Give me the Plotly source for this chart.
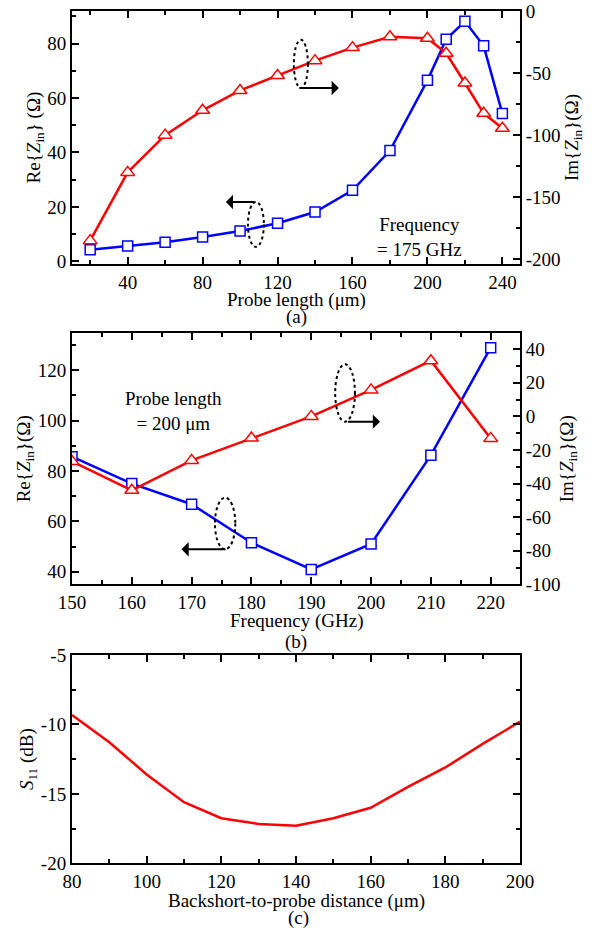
import plotly.graph_objects as go

# ---------------- data ----------------
# Panel (a): vs probe length at 175 GHz
probe_len = [20, 40, 60, 80, 100, 120, 140, 160, 180, 200, 210, 220, 230, 240]
re_a = [4.2, 5.6, 7.0, 8.9, 11.1, 14.0, 18.1, 26.1, 40.7, 66.5, 81.6, 88.2, 79.2, 54.3]
im_a = [-185, -130, -100, -80, -64, -52, -40, -29.5, -20.7, -22, -34, -58, -82.4, -94.5]

# Panel (b): vs frequency at probe length 200 um
freq = [150, 160, 170, 180, 190, 200, 210, 220]
re_b = [85.7, 75.0, 66.8, 51.5, 40.9, 51.0, 86.3, 129.0]
im_b = [-26.8, -44.0, -26.2, -12.9, 0.0, 15.8, 33.2, -13.1]

# Panel (c): S11 vs backshort-to-probe distance
dist = [80, 90, 100, 110, 120, 130, 140, 150, 160, 170, 180, 190, 200]
s11 = [-9.32, -11.28, -13.6, -15.6, -16.75, -17.17, -17.3, -16.75, -16.0, -14.5, -13.1, -11.4, -9.8]

# tick labels
xa_ticks = [40, 80, 120, 160, 200, 240]
ya_ticks = [0, 20, 40, 60, 80]
ya2_ticks = [-200, -150, -100, -50, 0]
xb_ticks = [150, 160, 170, 180, 190, 200, 210, 220]
yb_ticks = [40, 60, 80, 100, 120]
yb2_ticks = [-100, -80, -60, -40, -20, 0, 20, 40]
xc_ticks = [80, 100, 120, 140, 160, 180, 200]
yc_ticks = [-20, -15, -10, -5]

FONT = "Liberation Serif, Times New Roman, serif"
FS = 19
RED = "#ff0000"
BLUE = "#0000ff"


def lab(v):
    return [str(t) for t in v]


def axis(**kw):
    base = dict(
        showline=True, linecolor="black", linewidth=2,
        ticks="inside", ticklen=7, tickwidth=1.5, tickcolor="black",
        showgrid=False, zeroline=False, automargin=False,
        tickfont=dict(family=FONT, size=FS, color="black"),
        title_font=dict(family=FONT, size=FS, color="black"),
    )
    base.update(kw)
    return base


fig = go.Figure()

# Panel (a)
fig.add_trace(go.Scatter(x=probe_len, y=re_a, mode="lines+markers", xaxis="x", yaxis="y",
                         line=dict(color=BLUE, width=2.5),
                         marker=dict(symbol="square", size=10, color="white",
                                     line=dict(color=BLUE, width=1.5)), showlegend=False))
fig.add_trace(go.Scatter(x=probe_len, y=im_a, mode="lines+markers", xaxis="x", yaxis="y2",
                         line=dict(color=RED, width=2.5),
                         marker=dict(symbol="triangle-up", size=12, color="white",
                                     line=dict(color=RED, width=1.5)), showlegend=False))
# Panel (b)
fig.add_trace(go.Scatter(x=freq, y=re_b, mode="lines+markers", xaxis="x2", yaxis="y3",
                         line=dict(color=BLUE, width=2.5),
                         marker=dict(symbol="square", size=10, color="white",
                                     line=dict(color=BLUE, width=1.5)), showlegend=False))
fig.add_trace(go.Scatter(x=freq, y=im_b, mode="lines+markers", xaxis="x2", yaxis="y4",
                         line=dict(color=RED, width=2.5),
                         marker=dict(symbol="triangle-up", size=12, color="white",
                                     line=dict(color=RED, width=1.5)), showlegend=False))
# Panel (c)
fig.add_trace(go.Scatter(x=dist, y=s11, mode="lines", xaxis="x3", yaxis="y5",
                         line=dict(color=RED, width=2.5), showlegend=False))

W, H = 597, 931
xdom = [72 / W, 520 / W]
da = [1 - 264 / H, 1 - 11 / H]
db = [1 - 584.3 / H, 1 - 333.3 / H]
dc = [1 - 863.3 / H, 1 - 655 / H]

fig.update_layout(
    width=W, height=H,
    margin=dict(l=0, r=0, t=0, b=0),
    paper_bgcolor="white", plot_bgcolor="white",
    font=dict(family=FONT, size=FS, color="black"),
    xaxis=axis(domain=xdom, anchor="y", range=[10.3, 249.4], mirror="ticks",
               tickmode="array", tickvals=xa_ticks, ticktext=lab(xa_ticks),
               minor=dict(ticks="inside", ticklen=4, dtick=20, tick0=0, tickcolor="black")),
    yaxis=axis(domain=da, anchor="x", range=[-1, 92],
               tickmode="array", tickvals=ya_ticks, ticktext=lab(ya_ticks),
               minor=dict(ticks="inside", ticklen=4, dtick=10, tick0=0, tickcolor="black"),
               title=dict(text="Re{<i>Z</i><sub>in</sub>} (Ω)", standoff=2)),
    yaxis2=axis(domain=da, anchor="x", overlaying="y", side="right", range=[-203.8, 0],
                tickmode="array", tickvals=ya2_ticks, ticktext=lab(ya2_ticks),
                minor=dict(ticks="inside", ticklen=4, dtick=25, tick0=0, tickcolor="black"),
                title=dict(text="Im{<i>Z</i><sub>in</sub>}(Ω)", standoff=0)),
    xaxis2=axis(domain=xdom, anchor="y3", range=[150, 224.9], mirror="ticks",
                tickmode="array", tickvals=xb_ticks, ticktext=lab(xb_ticks),
                minor=dict(ticks="inside", ticklen=4, dtick=5, tick0=0, tickcolor="black")),
    yaxis3=axis(domain=db, anchor="x2", range=[35, 134.7],
                tickmode="array", tickvals=yb_ticks, ticktext=lab(yb_ticks),
                minor=dict(ticks="inside", ticklen=4, dtick=10, tick0=0, tickcolor="black"),
                title=dict(text="Re{<i>Z</i><sub>in</sub>}(Ω)", standoff=2)),
    yaxis4=axis(domain=db, anchor="x2", overlaying="y3", side="right", range=[-100, 49.5],
                tickmode="array", tickvals=yb2_ticks, ticktext=lab(yb2_ticks),
                minor=dict(ticks="inside", ticklen=4, dtick=10, tick0=0, tickcolor="black"),
                title=dict(text="Im{<i>Z</i><sub>in</sub>}(Ω)", standoff=0)),
    xaxis3=axis(domain=xdom, anchor="y5", range=[80, 200], mirror="ticks",
                tickmode="array", tickvals=xc_ticks, ticktext=lab(xc_ticks),
                minor=dict(ticks="inside", ticklen=4, dtick=10, tick0=0, tickcolor="black")),
    yaxis5=axis(domain=dc, anchor="x3", range=[-20, -5], mirror="ticks",
                tickmode="array", tickvals=yc_ticks, ticktext=lab(yc_ticks),
                minor=dict(ticks="inside", ticklen=4, dtick=2.5, tick0=0, tickcolor="black"),
                title=dict(text="<i>S</i><sub>11</sub> (dB)", standoff=2)),
)

# X-axis titles, panel labels and text annotations
ann = [
    dict(text="Probe length (μm)", xref="paper", yref="paper", x=296 / W, y=1 - 300 / H),
    dict(text="Frequency (GHz)", xref="paper", yref="paper", x=296 / W, y=1 - 621 / H),
    dict(text="Backshort-to-probe distance (μm)", xref="paper", yref="paper", x=296 / W, y=1 - 900.5 / H),
    dict(text="(a)", xref="paper", yref="paper", x=296 / W, y=1 - 317 / H),
    dict(text="(b)", xref="paper", yref="paper", x=296 / W, y=1 - 641.5 / H),
    dict(text="(c)", xref="paper", yref="paper", x=298 / W, y=1 - 918 / H),
    dict(text="Frequency<br>= 175 GHz", xref="x", yref="y", x=196, y=9),
    dict(text="Probe length<br>= 200 μm", xref="x2", yref="y3", x=167, y=104),
]
for a in ann:
    fig.add_annotation(showarrow=False, font=dict(family=FONT, size=FS, color="black"),
                       xanchor="center", yanchor="middle", **a)

# Arrows (tail at ax/ay, head at x/y)
arrows = [
    dict(xref="x", yref="y", axref="x", ayref="y", ax=130.8, ay=63.7, x=152.7, y=63.7),
    dict(xref="x", yref="y", axref="x", ayref="y", ax=108.4, ay=21.8, x=92.4, y=21.8),
    dict(xref="x2", yref="y3", axref="x2", ayref="y3", ax=195.9, ay=99.6, x=201.5, y=99.6),
    dict(xref="x2", yref="y3", axref="x2", ayref="y3", ax=175.9, ay=48.9, x=168.3, y=48.9),
]
for a in arrows:
    fig.add_annotation(text="", showarrow=True, arrowhead=1, arrowsize=1.2, arrowwidth=2,
                       arrowcolor="black", standoff=0, startstandoff=0, **a)

# Dashed ellipses
ellipses = [
    dict(xref="x", yref="y", x0=128.7, x1=136.2, y0=63.7, y1=81.4),
    dict(xref="x", yref="y", x0=104.2, x1=112.7, y0=5.3, y1=21.8),
    dict(xref="x2", yref="y3", x0=194.0, x1=197.3, y0=99.6, y1=122.4),
    dict(xref="x2", yref="y3", x0=173.9, x1=177.3, y0=48.9, y1=69.4),
]
for e in ellipses:
    fig.add_shape(type="circle", line=dict(color="black", width=2, dash="dot"), **e)

fig.write_html("out.html")
